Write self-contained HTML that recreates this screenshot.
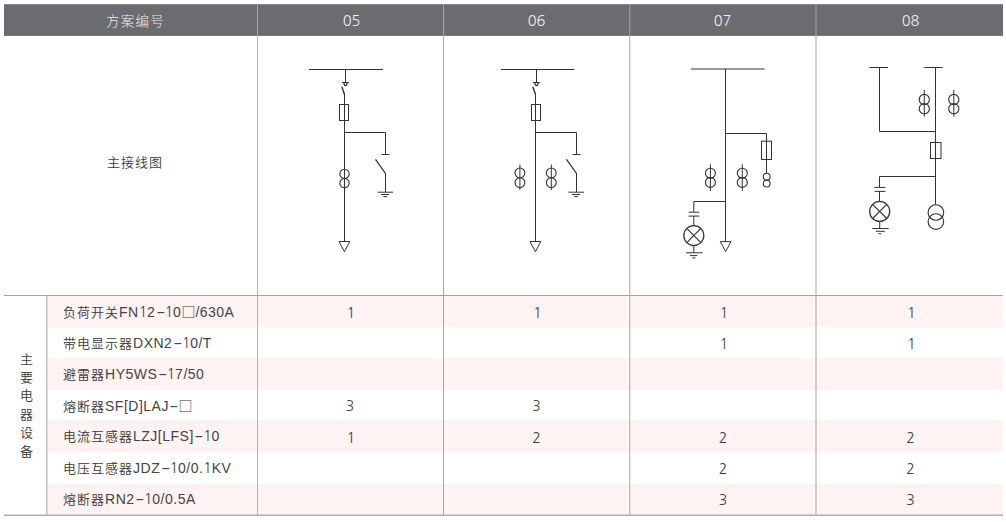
<!DOCTYPE html>
<html lang="zh-CN">
<head>
<meta charset="utf-8">
<title>方案</title>
<style>
html,body{margin:0;padding:0;background:#fff;}
body{width:1006px;height:522px;position:relative;overflow:hidden;
  font-family:"Liberation Sans","Noto Sans CJK SC",sans-serif;font-size:14px;color:#3a3a3a;}
.a{position:absolute;}
.hd{left:4px;top:4px;width:999px;height:32px;background:#6b6c70;}
.ht{position:absolute;top:5px;height:32px;line-height:32px;color:#ededed;text-align:center;font-size:14.6px;font-family:"NanumGothic","Liberation Sans",sans-serif;}
.hc{margin-top:1px;font-size:13.5px;letter-spacing:1.3px;font-weight:300;font-family:"Liberation Sans","Noto Sans CJK SC",sans-serif;}
.pk{position:absolute;left:47.5px;width:955.5px;background:#fdf3f2;}
.vl{position:absolute;width:1px;}
.lbl{position:absolute;left:63px;height:31px;line-height:31px;margin-top:0.25px;white-space:nowrap;font-size:13px;letter-spacing:1px;font-weight:350;}
.num{position:absolute;height:31px;line-height:31px;margin-top:1.5px;color:#404040;text-align:center;font-family:"NanumGothic","Liberation Sans",sans-serif;}
.lat{font-family:"Liberation Sans",sans-serif;font-size:14px;letter-spacing:0.5px;font-weight:400;color:#444;}
.o{font-family:"NanumGothic","Liberation Sans",sans-serif;display:inline-block;width:8.3px;letter-spacing:0;}
.d{font-family:"Liberation Sans",sans-serif;font-size:14px;display:inline-block;width:7.5px;margin:0 0.5px 0 1.5px;letter-spacing:0;text-align:center;transform:scaleX(1.95);}
.bx{font-family:"Noto Sans CJK SC",sans-serif;font-size:14px;letter-spacing:0;}
.vt{position:absolute;left:20px;width:14px;line-height:18.4px;font-size:13px;font-weight:350;}
</style>
</head>
<body>
<!-- header -->
<div class="a hd"></div>
<div class="a" style="left:4px;top:4px;width:999px;height:1px;background:#868789;"></div>
<div class="a" style="left:4px;top:35px;width:999px;height:1px;background:#77787b;"></div>
<div class="ht hc" style="left:9px;width:253px;">方案编号</div>
<div class="ht" style="left:258.5px;width:186px;">05</div>
<div class="ht" style="left:443px;width:187px;">06</div>
<div class="ht" style="left:629.5px;width:186px;">07</div>
<div class="ht" style="left:817.5px;width:186px;">08</div>

<!-- pink rows -->
<div class="pk" style="top:296px;height:31px;"></div>
<div class="pk" style="top:358px;height:32px;"></div>
<div class="pk" style="top:420px;height:32px;"></div>
<div class="pk" style="top:484px;height:31px;"></div>

<!-- grid lines -->
<svg class="a" style="left:0;top:0" width="1006" height="522">
 <g stroke-width="1" fill="none">
  <!-- header separators -->
  <line x1="257.5" y1="4" x2="257.5" y2="36" stroke="#a4a5a9"/>
  <line x1="443.5" y1="4" x2="443.5" y2="36" stroke="#a4a5a9"/>
  <line x1="629.8" y1="4" x2="629.8" y2="36" stroke="#a4a5a9"/>
  <line x1="816" y1="4" x2="816" y2="36" stroke="#a4a5a9"/>
  <!-- body separators -->
  <line x1="257.5" y1="36" x2="257.5" y2="516" stroke="#b5b5b8"/>
  <line x1="443.5" y1="36" x2="443.5" y2="516" stroke="#a8a8ab"/>
  <line x1="629.75" y1="36" x2="629.75" y2="516" stroke="#a8a8ab"/>
  <line x1="816" y1="36" x2="816" y2="516" stroke="#a4a4a7"/>
  <line x1="46.85" y1="296" x2="46.85" y2="516" stroke="#9e9ea0"/>
  <line x1="4" y1="295.5" x2="1003" y2="295.5" stroke="#a6a2a2" stroke-width="1.2"/>
  <line x1="4" y1="515.3" x2="1003" y2="515.3" stroke="#b0abab" stroke-width="1.4"/>
 </g>
</svg>

<!-- label column -->
<div class="a" style="left:107px;top:150px;line-height:26px;font-size:13px;letter-spacing:1px;font-weight:350;">主接线图</div>
<div class="vt" style="top:350.6px;">主<br>要<br>电<br>器<br>设<br>备</div>

<div class="lbl" style="top:296px;">负荷开关<span class="lat">FN<span class="o">1</span>2<span class="d">-</span><span class="o">1</span>0</span><span class="bx">□</span><span class="lat">/630A</span></div>
<div class="lbl" style="top:327.3px;">带电显示器<span class="lat">DXN2<span class="d">-</span><span class="o">1</span>0/T</span></div>
<div class="lbl" style="top:358.6px;">避雷器<span class="lat">HY5WS<span class="d">-</span><span class="o">1</span>7/50</span></div>
<div class="lbl" style="top:389.9px;">熔断器<span class="lat">SF[D]LAJ<span class="d">-</span></span><span class="bx">□</span></div>
<div class="lbl" style="top:421.1px;">电流互感器<span class="lat">LZJ[LFS]<span class="d">-</span><span class="o">1</span>0</span></div>
<div class="lbl" style="top:452.4px;">电压互感器<span class="lat">JDZ<span class="d">-</span><span class="o">1</span>0/0.<span class="o">1</span>KV</span></div>
<div class="lbl" style="top:483.7px;">熔断器<span class="lat">RN2<span class="d">-</span><span class="o">1</span>0/0.5A</span></div>

<!-- numbers -->
<div class="num" style="left:257px;width:186px;top:296px;"><span style="padding-left:2px">1</span></div>
<div class="num" style="left:443px;width:187px;top:296px;"><span style="padding-left:2px">1</span></div>
<div class="num" style="left:630px;width:186px;top:296px;"><span style="padding-left:2px">1</span></div>
<div class="num" style="left:817.5px;width:186px;top:296px;"><span style="padding-left:2px">1</span></div>
<div class="num" style="left:630px;width:186px;top:327.3px;"><span style="padding-left:2px">1</span></div>
<div class="num" style="left:817.5px;width:186px;top:327.3px;"><span style="padding-left:2px">1</span></div>
<div class="num" style="left:257px;width:186px;top:389.9px;">3</div>
<div class="num" style="left:443px;width:187px;top:389.9px;">3</div>
<div class="num" style="left:257px;width:186px;top:421.1px;"><span style="padding-left:2px">1</span></div>
<div class="num" style="left:443px;width:187px;top:421.1px;">2</div>
<div class="num" style="left:630px;width:186px;top:421.1px;">2</div>
<div class="num" style="left:817.5px;width:186px;top:421.1px;">2</div>
<div class="num" style="left:630px;width:186px;top:452.4px;">2</div>
<div class="num" style="left:817.5px;width:186px;top:452.4px;">2</div>
<div class="num" style="left:630px;width:186px;top:483.7px;">3</div>
<div class="num" style="left:817.5px;width:186px;top:483.7px;">3</div>

<!-- DIAGRAMS -->
<svg class="a" style="left:0;top:0" width="1006" height="522">
 <g stroke="#333" stroke-width="1" fill="none">
  <!-- col 05 -->
  <path d="M309 69.5H383M345.5 69.5V82.5M342 82.5H349"/>
  <path d="M343.9 82.5C343.9 86.6 347.1 86.6 347.1 82.5" stroke-width="1.2"/>
  <path d="M341.8 86.8L344.5 94.5" stroke-width="1.4"/>
  <path d="M344.5 94V241.5"/>
  <rect x="339.5" y="104.5" width="9" height="16"/>
  <path d="M344.5 132.5H385.5V154.5M381.5 154.5H389.5"/>
  <path d="M375.5 159.3L385.5 173.5" stroke-width="1.3"/>
  <path d="M385.5 173V192"/>
  <path d="M377.5 192.2H393M381 194.5H389M383.3 196.6H387.2"/>
  <circle cx="344.5" cy="173.9" r="4.7" stroke-width="1.12"/>
  <circle cx="344.5" cy="183.1" r="4.7" stroke-width="1.12"/>
  <path d="M339 241.5H349.8L344.4 251.7Z"/>

  <!-- col 06 -->
  <path d="M501 69.5H574.5M536.5 69.5V82.5M533 82.5H540"/>
  <path d="M534.9 82.5C534.9 86.6 538.1 86.6 538.1 82.5" stroke-width="1.2"/>
  <path d="M532.8 86.8L535.5 94.5" stroke-width="1.4"/>
  <path d="M535.5 94V241.5"/>
  <rect x="531.5" y="104.5" width="9" height="16"/>
  <path d="M535.5 132.5H576.5V154.5M572.5 154.5H580.5"/>
  <path d="M566.5 159.3L576.5 173.5" stroke-width="1.3"/>
  <path d="M576.5 173V192"/>
  <path d="M568.5 192.2H584M572 194.5H580M574.3 196.6H578.2"/>
  <path d="M519.9 164.5V190M551.3 164.5V190"/>
  <circle cx="519.9" cy="172.9" r="4.9" stroke-width="1.12"/>
  <circle cx="519.9" cy="182.6" r="4.9" stroke-width="1.12"/>
  <circle cx="551.3" cy="172.9" r="4.9" stroke-width="1.12"/>
  <circle cx="551.3" cy="182.6" r="4.9" stroke-width="1.12"/>
  <path d="M530 241.5H540.8L535.4 251.7Z"/>

  <!-- col 07 -->
  <path d="M691 69H764.5M725.5 69V241.6"/>
  <path d="M725.5 133.5H766.5V173.3"/>
  <rect x="761.5" y="141.2" width="10" height="18.3"/>
  <circle cx="766.7" cy="176.7" r="3.4" stroke-width="1.12"/>
  <circle cx="766.7" cy="183.6" r="3.4" stroke-width="1.12"/>
  <path d="M710.4 164.2V191M742.3 164.2V191"/>
  <circle cx="710.4" cy="173.2" r="5" stroke-width="1.12"/>
  <circle cx="710.4" cy="182.4" r="5" stroke-width="1.12"/>
  <circle cx="742.3" cy="173.2" r="5" stroke-width="1.12"/>
  <circle cx="742.3" cy="182.4" r="5" stroke-width="1.12"/>
  <path d="M725.5 201.5H693.8V212.2M688.7 212.2H699.4M688.7 216.1H699.4M693.8 216.1V225.5"/>
  <circle cx="693.8" cy="235.5" r="10" stroke-width="1.25"/>
  <path d="M686.7 228.4L700.9 242.6M700.9 228.4L686.7 242.6" stroke-width="1.15"/>
  <path d="M693.8 245.5V252.8M686 252.8H702.6M690 255.6H697.4M692.2 257.9H695.4"/>
  <path d="M720.3 241.6H731L725.6 251.6Z"/>

  <!-- col 08 -->
  <path d="M869.5 67.5H888M879.5 67.5V131.5H935.5M924.3 67.5H942.7M935.5 67.5V204.8"/>
  <path d="M924.3 89.9V116.7M953.8 89.9V116.7"/>
  <circle cx="924.3" cy="99.5" r="5.1" stroke-width="1.12"/>
  <circle cx="924.3" cy="108.7" r="5.1" stroke-width="1.12"/>
  <circle cx="953.8" cy="99.5" r="5.1" stroke-width="1.12"/>
  <circle cx="953.8" cy="108.7" r="5.1" stroke-width="1.12"/>
  <rect x="930.5" y="142.5" width="10.5" height="16"/>
  <path d="M935.5 176.5H879.5V187.4M874.5 187.4H885.5M874.5 191.4H885.5M879.5 191.4V201.2"/>
  <circle cx="879.7" cy="211.4" r="10" stroke-width="1.25"/>
  <path d="M872.6 204.3L886.8 218.5M886.8 204.3L872.6 218.5" stroke-width="1.15"/>
  <path d="M879.7 221.4V228.5M872.3 228.5H888.6M876 231.3H884.8M878.4 233.7H881.2"/>
  <circle cx="935.9" cy="212.5" r="7.8" stroke-width="1.12"/>
  <circle cx="935.9" cy="221.6" r="7.8" stroke-width="1.12"/>
 </g>
</svg>

</body>
</html>
